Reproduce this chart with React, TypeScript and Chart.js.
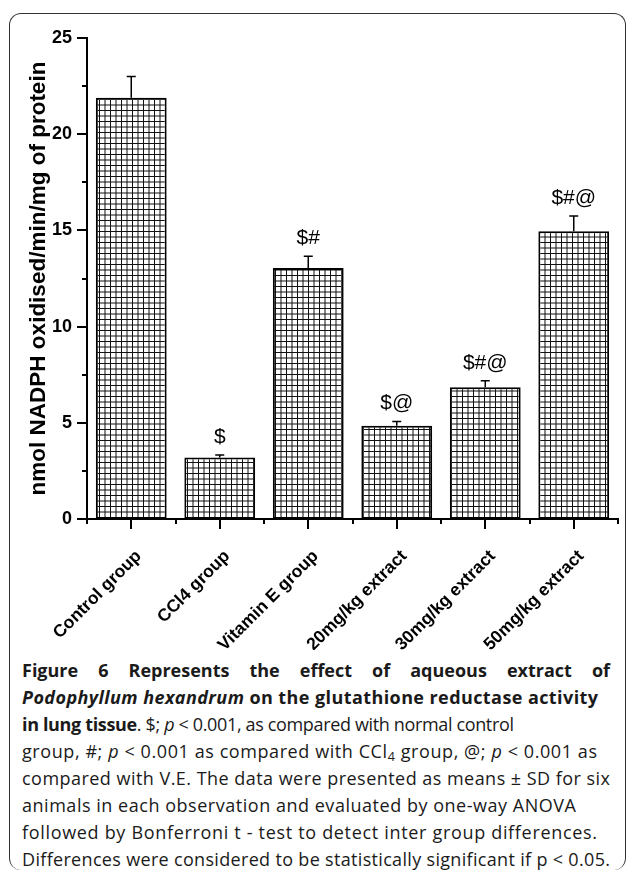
import React, { useEffect, useRef } from 'react';
import { Chart, registerables } from 'chart.js';

Chart.register(...registerables);

const categories = ['Control group', 'CCl4 group', 'Vitamin E group', '20mg/kg extract', '30mg/kg extract', '50mg/kg extract'];
const means = [21.9, 3.2, 13.05, 4.85, 6.85, 14.95];
const sds = [1.1, 0.12, 0.6, 0.22, 0.33, 0.8];
const marks = ['', '$', '$#', '$@', '$#@', '$#@'];
const yMin = 0;
const yMax = 25;
const yMajorStep = 5;
const yMinorStep = 2.5;
const yTitle = 'nmol NADPH oxidised/min/mg of protein';

const FONT = '"Liberation Sans", Arial, Helvetica, sans-serif';
const CAP_FONT = '"Open Sans", "Noto Sans", sans-serif';

// right edge (page px) each caption line should reach
const captionRightEdges = [610, 598, 455, 597, 610, 576, 597, 610];

function makePattern(): CanvasPattern | string {
  const c = document.createElement('canvas');
  c.width = 11;
  c.height = 11;
  const g = c.getContext('2d');
  if (!g) return '#fff';
  g.fillStyle = '#fff';
  g.fillRect(0, 0, 11, 11);
  g.strokeStyle = '#111';
  g.lineWidth = 1;
  g.beginPath();
  g.moveTo(0.5, 0); g.lineTo(0.5, 11);
  g.moveTo(6, 0); g.lineTo(6, 11);
  g.moveTo(0, 0.5); g.lineTo(11, 0.5);
  g.moveTo(0, 6); g.lineTo(11, 6);
  g.stroke();
  const p = g.createPattern(c, 'repeat');
  return p || '#fff';
}

const axisTicksPlugin = {
  id: 'axisTicks',
  afterDraw(chart: any) {
    const { ctx, chartArea, scales } = chart;
    const x = scales.x;
    const y = scales.y;
    ctx.save();
    ctx.strokeStyle = '#000';
    ctx.lineWidth = 2;
    ctx.beginPath();
    for (let v = yMin; v <= yMax + 1e-9; v += yMinorStep) {
      const py = Math.round(y.getPixelForValue(v));
      const len = Math.abs(v % yMajorStep) < 1e-9 ? 10 : 5;
      ctx.moveTo(chartArea.left, py);
      ctx.lineTo(chartArea.left - len, py);
    }
    const n = categories.length;
    for (let i = 0; i < n; i++) {
      const px = Math.round(x.getPixelForValue(i));
      ctx.moveTo(px, chartArea.bottom);
      ctx.lineTo(px, chartArea.bottom + 10);
    }
    for (let i = 0; i <= n; i++) {
      const px = Math.round(x.getPixelForValue(i - 0.5));
      ctx.moveTo(px, chartArea.bottom);
      ctx.lineTo(px, chartArea.bottom + 5);
    }
    ctx.stroke();
    ctx.restore();
  },
};

const errorBarPlugin = {
  id: 'errorBars',
  afterDatasetsDraw(chart: any) {
    const { ctx, scales } = chart;
    const y = scales.y;
    const meta = chart.getDatasetMeta(0);
    ctx.save();
    ctx.strokeStyle = '#000';
    ctx.lineWidth = 1.5;
    meta.data.forEach((bar: any, i: number) => {
      const top = y.getPixelForValue(means[i] + sds[i]);
      const base = y.getPixelForValue(means[i]);
      ctx.beginPath();
      ctx.moveTo(bar.x, base);
      ctx.lineTo(bar.x, top);
      ctx.moveTo(bar.x - 4.5, top);
      ctx.lineTo(bar.x + 4.5, top);
      ctx.stroke();
      if (marks[i]) {
        ctx.fillStyle = '#000';
        ctx.font = `21px ${FONT}`;
        ctx.textAlign = 'center';
        ctx.textBaseline = 'alphabetic';
        ctx.fillText(marks[i], bar.x, top - 12);
      }
    });
    ctx.restore();
  },
};

function ChartCanvas() {
  const ref = useRef<HTMLCanvasElement>(null);
  useEffect(() => {
    if (!ref.current) return;
    const chart = new Chart(ref.current, {
      type: 'bar',
      data: {
        labels: categories,
        datasets: [
          {
            data: means,
            backgroundColor: makePattern() as any,
            borderColor: '#000',
            borderWidth: 2,
            borderSkipped: false,
            barPercentage: 0.8,
            categoryPercentage: 1.0,
          },
        ],
      },
      options: {
        responsive: false,
        animation: false,
        devicePixelRatio: 1,
        layout: { padding: { left: 12, top: 38, right: 11, bottom: 0 } },
        plugins: {
          legend: { display: false },
          tooltip: { enabled: false },
          title: { display: false },
        },
        scales: {
          x: {
            type: 'category',
            grid: { display: false, drawTicks: false },
            border: { display: true, color: '#000', width: 2 },
            ticks: {
              color: '#000',
              font: { family: FONT, size: 17.5, weight: 'bold' },
              maxRotation: 45,
              minRotation: 45,
              autoSkip: false,
              padding: 27,
              labelOffset: 7.5,
            },
            afterFit: (scale: any) => {
              scale.height = 131;
            },
          },
          y: {
            min: yMin,
            max: yMax,
            grid: { display: false, drawTicks: false },
            border: { display: true, color: '#000', width: 2 },
            ticks: {
              stepSize: yMajorStep,
              color: '#000',
              padding: 15,
              font: { family: FONT, size: 18, weight: 'bold' },
            },
            title: {
              display: true,
              text: yTitle,
              color: '#000',
              font: { family: FONT, size: 22.5, weight: 'bold' },
              padding: { top: 13, bottom: 0 },
            },
            afterFit: (scale: any) => {
              scale.width = 75;
            },
          },
        },
      },
      plugins: [axisTicksPlugin, errorBarPlugin],
    } as any);
    return () => chart.destroy();
  }, []);
  return (
    <canvas
      ref={ref}
      width={629}
      height={650}
      style={{ position: 'absolute', left: 0, top: 0, width: 629, height: 650, display: 'block' }}
    />
  );
}

const lineStyle: React.CSSProperties = {
  height: 27.1,
  lineHeight: '27.1px',
  whiteSpace: 'nowrap',
};

function Caption() {
  const refs = useRef<(HTMLSpanElement | null)[]>([]);
  useEffect(() => {
    const fit = () => {
      refs.current.forEach((el, i) => {
        if (!el) return;
        el.style.wordSpacing = '0px';
        el.style.letterSpacing = '0px';
        const r = el.getBoundingClientRect();
        const text = el.textContent || '';
        const diff = captionRightEdges[i] - r.right;
        if (i === 0) {
          const spaces = (text.match(/ /g) || []).length;
          if (spaces) el.style.wordSpacing = `${Math.max(0, diff / spaces)}px`;
        } else {
          const ls = diff / Math.max(1, text.length - 1);
          el.style.letterSpacing = `${Math.min(1.2, Math.max(-0.35, ls))}px`;
        }
      });
    };
    fit();
    if ((document as any).fonts && (document as any).fonts.ready) {
      (document as any).fonts.ready.then(fit);
    }
  }, []);
  const setRef = (i: number) => (el: HTMLSpanElement | null) => {
    refs.current[i] = el;
  };
  return (
    <div
      style={{
        position: 'absolute',
        left: 22,
        top: 656.5,
        width: 600,
        fontFamily: CAP_FONT,
        fontSize: 18,
        color: '#1a1a1a',
      }}
    >
      <div style={{ ...lineStyle, fontWeight: 700 }}>
        <span ref={setRef(0)}>Figure 6 Represents the effect of aqueous extract of</span>
      </div>
      <div style={{ ...lineStyle, fontWeight: 700 }}>
        <span ref={setRef(1)}><i>Podophyllum hexandrum</i> on the glutathione reductase activity</span>
      </div>
      <div style={lineStyle}>
        <span ref={setRef(2)}><b>in lung tissue</b>. $; <i>p</i> &lt; 0.001, as compared with normal control</span>
      </div>
      <div style={lineStyle}>
        <span ref={setRef(3)}>group, #; <i>p</i> &lt; 0.001 as compared with CCl<sub style={{ fontSize: '0.7em', verticalAlign: '-0.2em', lineHeight: 0 }}>4</sub> group, @; <i>p</i> &lt; 0.001 as</span>
      </div>
      <div style={lineStyle}>
        <span ref={setRef(4)}>compared with V.E. The data were presented as means ± SD for six</span>
      </div>
      <div style={lineStyle}>
        <span ref={setRef(5)}>animals in each observation and evaluated by one-way ANOVA</span>
      </div>
      <div style={lineStyle}>
        <span ref={setRef(6)}>followed by Bonferroni t - test to detect inter group differences.</span>
      </div>
      <div style={lineStyle}>
        <span ref={setRef(7)}>Differences were considered to be statistically significant if p &lt; 0.05.</span>
      </div>
    </div>
  );
}

export default function App() {
  return (
    <div style={{ position: 'absolute', left: 0, top: 0, width: 629, height: 876, overflow: 'hidden', background: '#fff' }}>
      <div
        style={{
          position: 'absolute',
          left: 9,
          top: 13,
          width: 617,
          height: 857,
          boxSizing: 'border-box',
          borderTop: '1.5px solid #333',
          borderLeft: '1.5px solid #333',
          borderRight: '1.5px solid #333',
          borderBottom: 'none',
          borderRadius: 12,
        }}
      />
      <ChartCanvas />
      <Caption />
    </div>
  );
}
